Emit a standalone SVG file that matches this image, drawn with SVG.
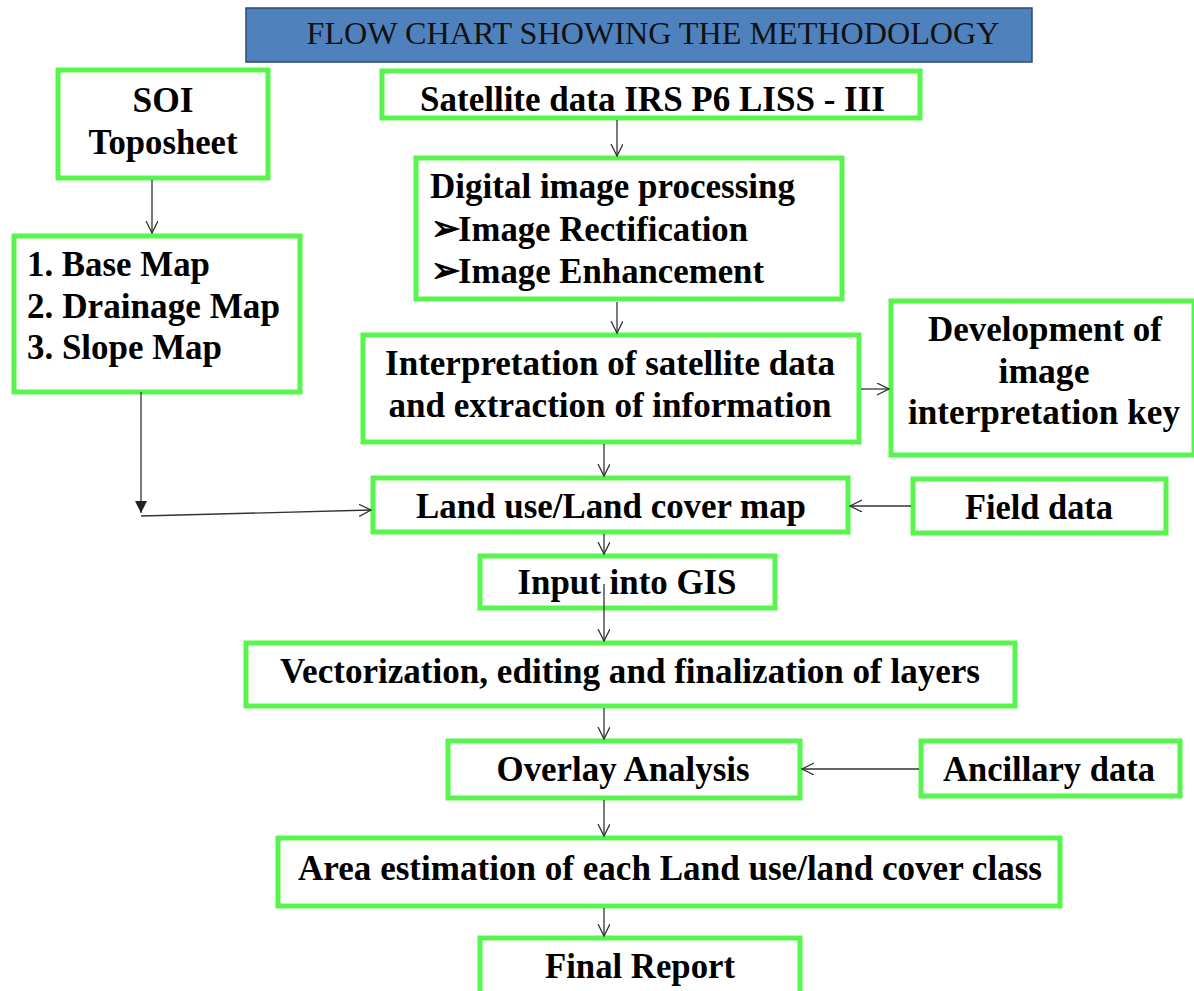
<svg xmlns="http://www.w3.org/2000/svg" width="1194" height="991" viewBox="0 0 1194 991">
<defs>
<style>
.box{fill:#fff;stroke:#58F54E;stroke-width:5}
text{font-family:'Liberation Serif',Tinos,'Times New Roman',Times,serif}
.t{font-weight:700;font-size:35px;fill:#000;text-anchor:middle}
.tl{font-weight:700;font-size:35px;fill:#000}
.c{stroke:#333;stroke-width:1.3;fill:none}
</style>
<marker id="open" markerWidth="14" markerHeight="14" refX="12" refY="6" orient="auto" markerUnits="userSpaceOnUse">
<path d="M0,0 L12,6 L0,12" fill="none" stroke="#333" stroke-width="1.3"/>
</marker>
<marker id="solid" markerWidth="14" markerHeight="14" refX="12" refY="6" orient="auto" markerUnits="userSpaceOnUse">
<path d="M0,0 L12,6 L0,12 Z" fill="#222"/>
</marker>
</defs>
<rect width="1194" height="991" fill="#fff"/>
<g id="title">
<rect x="246" y="8" width="786" height="54" fill="#4F81BD" stroke="#2E4A6E" stroke-width="1.5"/>
<text x="653" y="44" font-size="32" fill="#111" text-anchor="middle" textLength="693" lengthAdjust="spacingAndGlyphs">FLOW CHART SHOWING THE METHODOLOGY</text>
</g>
<g id="soi">
<rect class="box" x="58" y="70" width="210" height="108"/>
<text class="t" x="163" y="112" textLength="61" lengthAdjust="spacingAndGlyphs">SOI</text>
<text class="t" x="163" y="154" textLength="149" lengthAdjust="spacingAndGlyphs">Toposheet</text>
</g>
<g id="maps">
<rect class="box" x="14" y="236" width="286" height="156"/>
<text class="tl" x="27" y="276" textLength="183" lengthAdjust="spacingAndGlyphs">1. Base Map</text>
<text class="tl" x="27" y="318" textLength="253" lengthAdjust="spacingAndGlyphs">2. Drainage Map</text>
<text class="tl" x="27" y="359" textLength="195" lengthAdjust="spacingAndGlyphs">3. Slope Map</text>
</g>
<g id="satellite">
<rect class="box" x="382" y="71" width="538" height="47"/>
<text class="tl" x="420" y="111" textLength="465" lengthAdjust="spacingAndGlyphs">Satellite data IRS P6 LISS - III</text>
</g>
<g id="dip">
<rect class="box" x="416" y="158" width="426" height="141"/>
<text class="tl" x="430" y="198" font-size="33" textLength="365" lengthAdjust="spacingAndGlyphs">Digital image processing</text>
<text class="tl" x="431" y="240" font-family="DejaVu Sans,sans-serif" font-weight="400" font-size="23">➢</text>
<text class="tl" x="458" y="241" font-size="33" textLength="290" lengthAdjust="spacingAndGlyphs">Image Rectification</text>
<text class="tl" x="431" y="282" font-family="DejaVu Sans,sans-serif" font-weight="400" font-size="23">➢</text>
<text class="tl" x="458" y="283" font-size="33" textLength="306" lengthAdjust="spacingAndGlyphs">Image Enhancement</text>
</g>
<g id="interp">
<rect class="box" x="363" y="335" width="496" height="107"/>
<text class="t" x="610" y="375" font-size="33" textLength="450" lengthAdjust="spacingAndGlyphs">Interpretation of satellite data</text>
<text class="t" x="610" y="417" font-size="33" textLength="443" lengthAdjust="spacingAndGlyphs">and extraction of information</text>
</g>
<g id="key">
<rect class="box" x="891" y="301" width="303" height="154"/>
<text class="t" x="1045" y="341" font-size="33" textLength="234" lengthAdjust="spacingAndGlyphs">Development of</text>
<text class="t" x="1044" y="383" font-size="33" textLength="91" lengthAdjust="spacingAndGlyphs">image</text>
<text class="t" x="1044" y="424" font-size="33" textLength="272" lengthAdjust="spacingAndGlyphs">interpretation key</text>
</g>
<g id="lulc">
<rect class="box" x="373" y="478" width="475" height="54"/>
<text class="t" x="611" y="518" textLength="390" lengthAdjust="spacingAndGlyphs">Land use/Land cover map</text>
</g>
<g id="field">
<rect class="box" x="913" y="479" width="253" height="54"/>
<text class="t" x="1039" y="519" textLength="148" lengthAdjust="spacingAndGlyphs">Field data</text>
</g>
<g id="gis">
<rect class="box" x="480" y="556" width="295" height="52"/>
<text class="t" x="627" y="594" textLength="219" lengthAdjust="spacingAndGlyphs">Input into GIS</text>
</g>
<g id="vector">
<rect class="box" x="246" y="643" width="769" height="63"/>
<text class="t" x="630" y="683" textLength="700" lengthAdjust="spacingAndGlyphs">Vectorization, editing and finalization of layers</text>
</g>
<g id="overlay">
<rect class="box" x="448" y="741" width="352" height="57"/>
<text class="t" x="623" y="781" textLength="253" lengthAdjust="spacingAndGlyphs">Overlay Analysis</text>
</g>
<g id="ancillary">
<rect class="box" x="921" y="741" width="259" height="55"/>
<text class="t" x="1049" y="781" textLength="212" lengthAdjust="spacingAndGlyphs">Ancillary data</text>
</g>
<g id="area">
<rect class="box" x="278" y="838" width="782" height="68"/>
<text class="t" x="670" y="880" textLength="744" lengthAdjust="spacingAndGlyphs">Area estimation of each Land use/land cover class</text>
</g>
<g id="final">
<rect class="box" x="480" y="938" width="320" height="60"/>
<text class="t" x="640" y="978" textLength="190" lengthAdjust="spacingAndGlyphs">Final Report</text>
</g>
<g id="connectors">
<line class="c" x1="152" y1="180" x2="152" y2="233" marker-end="url(#open)"/>
<line class="c" x1="617" y1="120" x2="617" y2="156" marker-end="url(#open)"/>
<line class="c" x1="617" y1="302" x2="617" y2="333" marker-end="url(#open)"/>
<line class="c" x1="861" y1="389" x2="889" y2="389" marker-end="url(#open)"/>
<line class="c" x1="604" y1="444" x2="604" y2="476" marker-end="url(#open)"/>
<line class="c" x1="911" y1="506" x2="850" y2="506" marker-end="url(#open)"/>
<line class="c" x1="141" y1="392" x2="141" y2="513" marker-end="url(#solid)"/>
<line class="c" x1="141" y1="516" x2="371" y2="510" marker-end="url(#open)"/>
<line class="c" x1="604" y1="534" x2="604" y2="554" marker-end="url(#open)"/>
<line class="c" x1="604" y1="584" x2="604" y2="641" marker-end="url(#open)"/>
<line class="c" x1="604" y1="708" x2="604" y2="739" marker-end="url(#open)"/>
<line class="c" x1="919" y1="769" x2="802" y2="769" marker-end="url(#open)"/>
<line class="c" x1="604" y1="800" x2="604" y2="836" marker-end="url(#open)"/>
<line class="c" x1="604" y1="908" x2="604" y2="936" marker-end="url(#open)"/>
</g>
</svg>
